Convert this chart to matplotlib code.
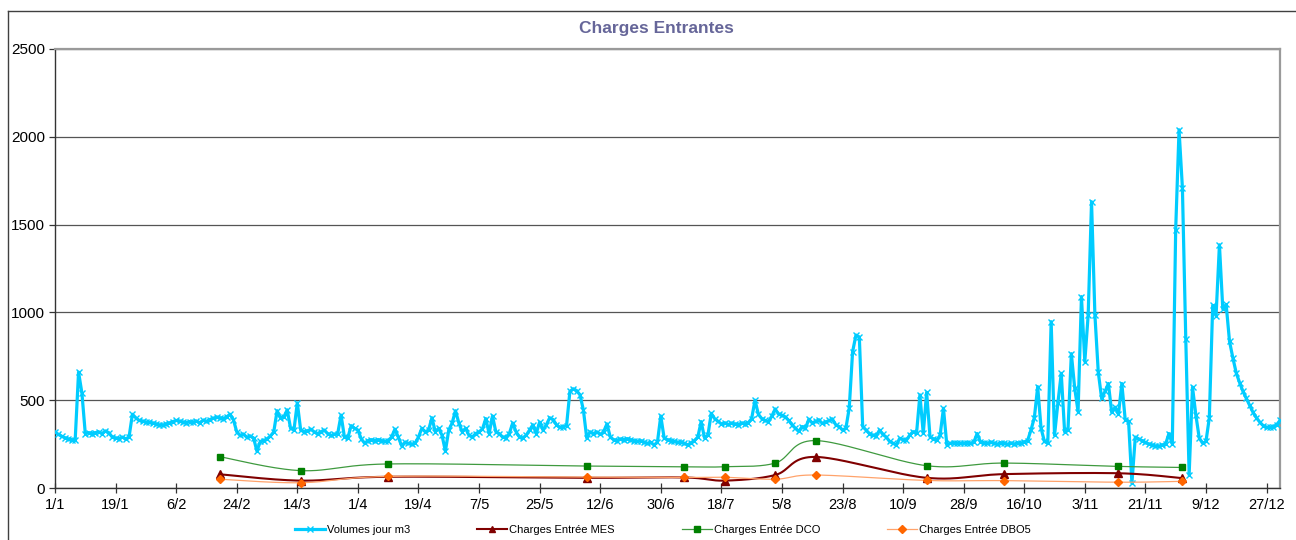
"""Graphique des charges entrantes : volume journalier et charges MES / DCO / DBO5."""
import numpy as np
import pandas as pd
import matplotlib
matplotlib.use("Agg")
import matplotlib.pyplot as plt
import matplotlib.dates as mdates
import matplotlib.ticker as mticker
from matplotlib.lines import Line2D

plt.rcParams["font.family"] = ["Liberation Sans", "DejaVu Sans"]

# Volumes journaliers (m3), du 1/1 au 31/12
volumes = [
    320, 305, 295, 285, 280, 275, 275, 660, 540, 310,
    315, 310, 315, 320, 310, 325, 315, 290, 285, 280,
    290, 280, 290, 420, 400, 385, 380, 375, 375, 370,
    365, 360, 358, 365, 370, 378, 385, 380, 375, 372,
    378, 375, 380, 372, 385, 380, 390, 398, 402, 400,
    395, 405, 420, 390, 320, 300, 305, 290, 295, 285,
    210, 265, 270, 280, 295, 320, 440, 400, 405, 445,
    340, 330, 485, 330, 320, 325, 335, 320, 310, 320,
    330, 310, 300, 305, 310, 415, 290, 285, 355, 340,
    330, 280, 255, 270, 275, 270, 275, 270, 265, 270,
    290, 335, 290, 240, 260, 255, 250, 255, 290, 340,
    320, 330, 400, 320, 340, 300, 210, 330, 370, 440,
    370, 320, 340, 300, 290, 310, 320, 335, 395, 310,
    410, 320, 310, 290, 285, 310, 370, 320, 290, 285,
    300, 330, 360, 310, 375, 330, 360, 400, 390, 360,
    345, 350, 355, 550, 565, 555, 530, 445, 285, 320,
    310, 320, 305, 320, 365, 290, 275, 270, 280, 275,
    280, 275, 270, 265, 270, 260, 255, 260, 245, 260,
    410, 285, 275, 270, 265, 260, 262, 255, 245, 258,
    270, 290, 378, 285, 300, 425, 395, 380, 365, 370,
    362, 368, 365, 360, 370, 365, 372, 395, 500, 420,
    395, 385, 378, 410, 450, 420, 415, 405, 385, 360,
    340, 322, 350, 340, 392, 370, 380, 387, 368, 375,
    385, 392, 360, 350, 330, 340, 455, 776, 871, 860,
    350, 330, 310, 300, 295, 330, 305, 290, 265, 255,
    245, 283, 275, 273, 302, 321, 311, 530, 311, 545,
    292, 280, 273, 300, 454, 245, 255, 258, 255, 255,
    255, 258, 255, 260, 310, 262, 258, 255, 260, 255,
    250, 258, 255, 250, 255, 250, 258, 255, 262, 270,
    330, 400, 577, 340, 265, 255, 947, 300, 484, 653,
    320, 330, 765, 568, 435, 1090, 720, 985, 1630, 985,
    660, 510, 550, 595, 430, 460, 420, 595, 390, 380,
    27, 290, 280, 270, 260, 250, 245, 240, 238, 245,
    250, 310, 250, 1470, 2040, 1710, 850, 75, 575, 415,
    285, 255, 265, 400, 1040, 980, 1385, 1020, 1045, 835,
    740, 655, 600, 550, 510, 470, 430, 400, 375, 355,
    345, 345, 350, 360, 385,
]
dates_volumes = pd.date_range("2010-01-01", periods=len(volumes), freq="D")

# Bilans 24h : dates de prelevement et charges (kg/j)
dates_charges = pd.to_datetime([
    "2010-02-19", "2010-03-15", "2010-04-10", "2010-06-08", "2010-07-07",
    "2010-07-19", "2010-08-03", "2010-08-15", "2010-09-17", "2010-10-10",
    "2010-11-13", "2010-12-02",
])
charges_mes = [78, 42, 64, 58, 60, 42, 74, 177, 58, 79, 84, 56]
charges_dco = [178, 99, 137, 125, 121, 121, 142, 270, 127, 142, 123, 117]
charges_dbo5 = [50, 30, 66, 62, 60, 61, 50, 74, 43, 42, 33, 38]

graduations_y = [0, 500, 1000, 1500, 2000, 2500]

COULEUR_VOLUME = "#00CCFF"
COULEUR_MES = "#800000"
COULEUR_DCO = "#008000"
COULEUR_DCO_LIGNE = "#3F9A3F"
COULEUR_DBO5 = "#FF6600"
COULEUR_DBO5_LIGNE = "#FFA36B"
COULEUR_TITRE = "#666699"


def lissage(x, y, pas=40):
    """Courbe lissee passant par les points (Bezier de Catmull-Rom, comme le tableur)."""
    x = np.asarray(x, float)
    y = np.asarray(y, float)
    px = np.concatenate([[x[0]], x, [x[-1]]])
    py = np.concatenate([[y[0]], y, [y[-1]]])
    t = np.linspace(0, 1, pas)[:, None]
    xs, ys = [], []
    for i in range(1, len(px) - 2):
        p0, p1, p2, p3 = (np.array([px[j], py[j]]) for j in (i - 1, i, i + 1, i + 2))
        c1 = p1 + (p2 - p0) / 6
        c2 = p2 - (p3 - p1) / 6
        b = ((1 - t) ** 3) * p1 + 3 * ((1 - t) ** 2) * t * c1 + 3 * (1 - t) * t ** 2 * c2 + t ** 3 * p2
        xs.append(b[:, 0])
        ys.append(b[:, 1])
    return np.concatenate(xs), np.concatenate(ys)


fig = plt.figure(figsize=(12.96, 5.4), dpi=100)
ax = fig.add_axes([55 / 1296, 1 - 488 / 540, (1280 - 55) / 1296, (488 - 49) / 540])

# Volume journalier : ligne brute epaisse avec croix
ax.plot(dates_volumes, volumes, color=COULEUR_VOLUME, lw=2.3,
        marker="x", ms=4, mew=1.0, zorder=3)

xc = mdates.date2num(dates_charges)
for valeurs, c_ligne, lw, c_marq, marq, ms in (
    (charges_mes, COULEUR_MES, 1.5, COULEUR_MES, "^", 5.5),
    (charges_dco, COULEUR_DCO_LIGNE, 0.9, COULEUR_DCO, "s", 5),
    (charges_dbo5, COULEUR_DBO5_LIGNE, 0.9, COULEUR_DBO5, "D", 4),
):
    lx, ly = lissage(xc, valeurs)
    ax.plot(lx, ly, color=c_ligne, lw=lw, zorder=4)
    ax.plot(xc, valeurs, ls="none", marker=marq, ms=ms, color=c_marq, zorder=5)

# Axes
ax.set_xlim(dates_volumes[0], dates_volumes[-1])
ax.set_ylim(graduations_y[0], graduations_y[-1])
ax.set_yticks(graduations_y)
ax.xaxis.set_major_locator(mticker.FixedLocator(
    mdates.date2num(pd.date_range(dates_volumes[0], dates_volumes[-1], freq="18D"))))
ax.xaxis.set_major_formatter(mticker.FuncFormatter(
    lambda v, _p: f"{mdates.num2date(v).day}/{mdates.num2date(v).month}"))
ax.tick_params(axis="x", direction="inout", length=7, width=0.9, color="#333333",
               labelsize=10.5, pad=4)
ax.tick_params(axis="y", direction="out", length=4, width=0.9, color="#333333",
               labelsize=11, pad=3)

ax.grid(axis="y", color="#555555", lw=0.9)
ax.set_axisbelow(True)
for cote in ("left", "bottom"):
    ax.spines[cote].set_color("#333333")
    ax.spines[cote].set_linewidth(1)
for cote in ("top", "right"):
    ax.spines[cote].set_color("#9a9a9a")
    ax.spines[cote].set_linewidth(1.6)

fig.text(656 / 1296, 1 - 29 / 540, "Charges Entrantes", ha="center", va="center",
         fontsize=12.5, fontweight="bold", color=COULEUR_TITRE)

# Legende sous le graphique
poignees = [
    Line2D([], [], color=COULEUR_VOLUME, lw=2.3, marker="x", ms=4, mew=1.0),
    Line2D([], [], color=COULEUR_MES, lw=1.5, marker="^", ms=5),
    Line2D([], [], color=COULEUR_DCO_LIGNE, lw=0.9, marker="s", ms=5,
           mfc=COULEUR_DCO, mec=COULEUR_DCO),
    Line2D([], [], color=COULEUR_DBO5_LIGNE, lw=0.9, marker="D", ms=4,
           mfc=COULEUR_DBO5, mec=COULEUR_DBO5),
]
etiquettes = ["Volumes jour m3", "Charges Entrée MES", "Charges Entrée DCO", "Charges Entrée DBO5"]
fig.legend(poignees, etiquettes, loc="center", bbox_to_anchor=(663 / 1296, 1 - 530 / 540),
           ncol=4, frameon=False, fontsize=8, handlelength=2.7, handletextpad=0.2,
           columnspacing=6.0)

# Cadre de la zone de graphique
fig.add_artist(Line2D([8 / 1296, 1], [1 - 11 / 540] * 2, color="#404040", lw=1))
fig.add_artist(Line2D([8 / 1296] * 2, [0, 1 - 11 / 540], color="#404040", lw=1))

fig.savefig("out.png", dpi=100, facecolor="white")
plt.close(fig)
